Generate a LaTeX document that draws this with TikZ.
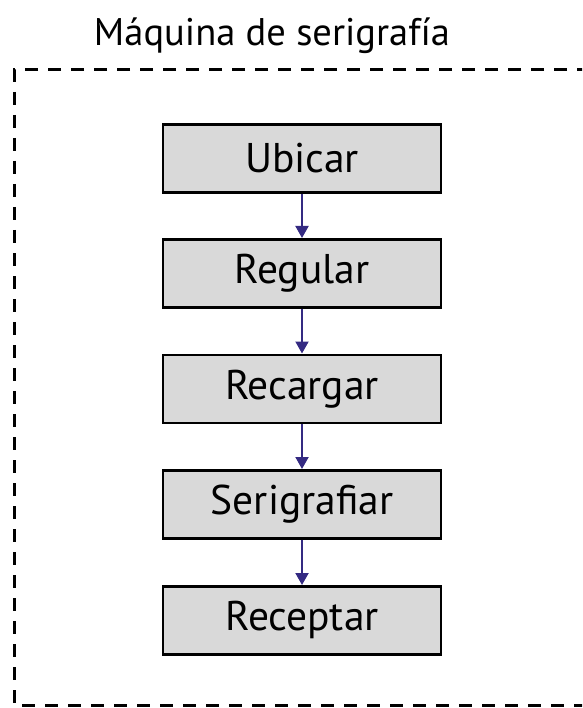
\documentclass[tikz,border=0pt]{standalone}
\usepackage{fontspec}
\setmainfont{PT Sans}
\usetikzlibrary{arrows.meta}
\definecolor{boxgray}{RGB}{217,217,217}
\definecolor{arrowblue}{RGB}{52,42,130}
\tikzset{
  stepbox/.style={draw=black, line width=2.6pt, fill=boxgray, minimum width=278pt, minimum height=68pt, inner sep=0pt, font=\fontsize{41.5}{46}\selectfont, anchor=north},
  flow/.style={draw=arrowblue, line width=2pt, -{Triangle[length=12pt,width=13pt]}},
  border/.style={draw=black, line width=3pt, dash pattern=on 13pt off 10pt}
}
\begin{document}
\begin{tikzpicture}[x=1pt,y=-1pt]
\useasboundingbox (0,0) rectangle (582,708);
\node[font=\fontsize{38.5}{44}\selectfont, anchor=base] (title) at (272,46) {Máquina de serigrafía};
\begin{scope}
\clip (0,0) rectangle (582,708);
\draw[border] (590,70) -- (14,70) -- (14,705) -- (590,705);
\end{scope}
\node[stepbox] (b1) at (302,123) {Ubicar};
\node[stepbox] (b2) at (302,238) {Regular};
\node[stepbox] (b3) at (302,353.5) {Recargar};
\node[stepbox] (b4) at (302,469) {Serigrafiar};
\node[stepbox] (b5) at (302,585) {Receptar};
\draw[flow] (b1.south) -- (b2.north);
\draw[flow] (b2.south) -- (b3.north);
\draw[flow] (b3.south) -- (b4.north);
\draw[flow] (b4.south) -- (b5.north);
\end{tikzpicture}
\end{document}
